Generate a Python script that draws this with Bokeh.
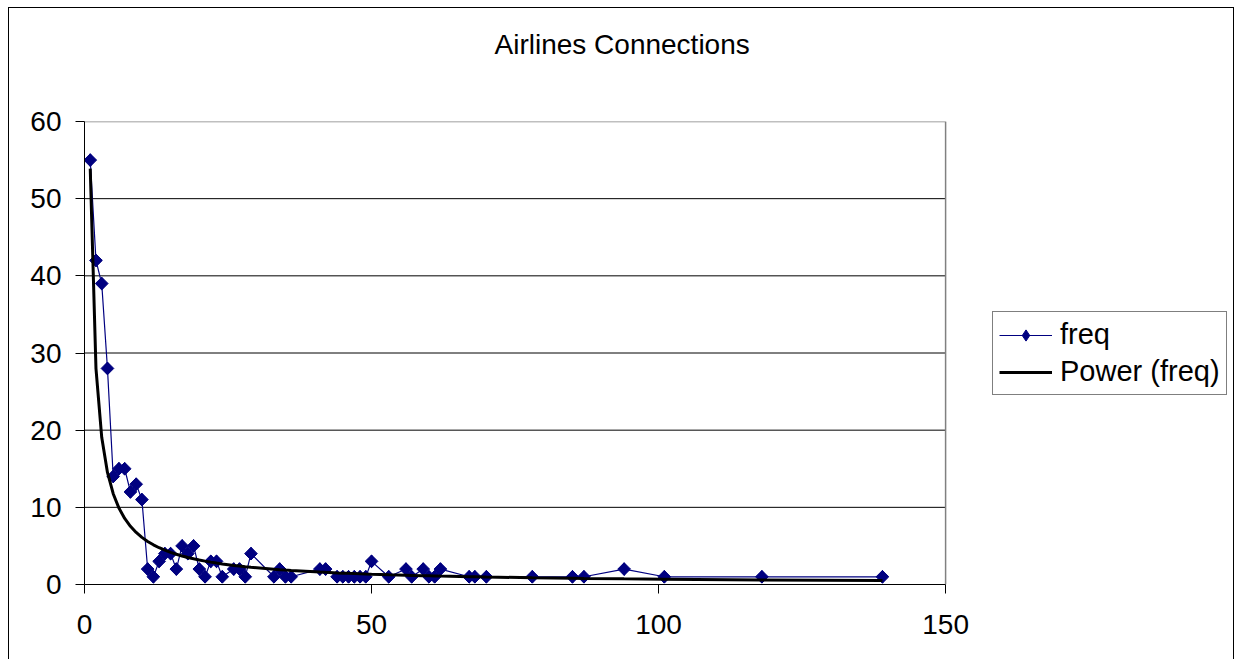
import numpy as np
from bokeh.plotting import figure
from bokeh.models import Range1d, FixedTicker, Legend, LegendItem, Title
from bokeh.embed import file_html
from bokeh.resources import INLINE

# Number of connections per airport (degree) and how many airports have it
degree = [1, 2, 3, 4, 5, 6, 7, 8, 9, 10, 11, 12, 13, 14, 15, 16, 17, 18, 19, 20,
          21, 22, 23, 24, 26, 27, 28, 29, 33, 34, 35, 36, 41, 42, 44, 45, 46, 47,
          48, 49, 50, 53, 56, 57, 59, 60, 61, 62, 67, 68, 70, 78, 85, 87, 94, 101,
          118, 139]
freq = [55, 42, 39, 28, 14, 15, 15, 12, 13, 11, 2, 1, 3, 4, 4, 2, 5, 4, 5, 2,
        1, 3, 3, 1, 2, 2, 1, 4, 1, 2, 1, 1, 2, 2, 1, 1, 1, 1,
        1, 1, 3, 1, 2, 1, 2, 1, 1, 2, 1, 1, 1, 1, 1, 1, 2, 1,
        1, 1]

y_ticks = [0, 10, 20, 30, 40, 50, 60]
x_ticks = [0, 50, 100, 150]

# Power trendline y = a * x^b fitted by least squares in log-log space
slope, intercept = np.polyfit(np.log(degree), np.log(freq), 1)
trend = np.exp(intercept) * np.power(np.array(degree, dtype=float), slope)

FONT = "Liberation Sans"
x_lo, x_hi = x_ticks[0], x_ticks[-1]
y_lo, y_hi = y_ticks[0], y_ticks[-1]

# The frame runs to the right edge so the legend can sit beside the plot area;
# the plot area itself (0..150 x 0..60) is outlined explicitly below.
p = figure(width=1226, height=652, output_backend="svg", toolbar_location=None,
           x_range=Range1d(x_lo, 200.5), y_range=Range1d(y_lo, y_hi),
           min_border_left=75, min_border_right=0,
           min_border_top=113, min_border_bottom=76,
           background_fill_color="white", border_fill_color="white")
# chart-area frame around the whole figure
p.styles = {"border-left": "1px solid black", "border-top": "1px solid black",
            "border-right": "1px solid black", "margin-left": "8px",
            "margin-top": "7px"}
p.outline_line_color = None

# empty spacer keeps the title well above the plot frame
p.add_layout(Title(text=" ", text_font_size="1px", standoff=59), "above")
p.add_layout(Title(text="Airlines Connections", align="left", offset=410,
                   standoff=0, text_font=FONT, text_font_size="28px",
                   text_font_style="normal", text_color="black"), "above")

p.xgrid.visible = False
p.ygrid.visible = False

p.yaxis.ticker = FixedTicker(ticks=y_ticks)
p.xaxis.ticker = FixedTicker(ticks=x_ticks)
p.xaxis.bounds = (x_lo, x_hi)
for ax in (p.xaxis[0], p.yaxis[0]):
    ax.axis_line_color = "black"
    ax.major_tick_line_color = "black"
    ax.major_tick_in = 0
    ax.major_tick_out = 9
    ax.minor_tick_line_color = None
    ax.major_label_text_font = FONT
    ax.major_label_text_font_size = "28px"
    ax.major_label_text_color = "black"
p.yaxis.major_label_standoff = 14
p.xaxis.major_label_standoff = 21

# horizontal gridlines across the plot area only
inner = y_ticks[1:-1]
p.segment(x0=[x_lo] * len(inner), x1=[x_hi] * len(inner), y0=inner, y1=inner,
          line_color="black", line_width=1)
# grey plot-area border (top and right edges)
p.line([x_lo, x_hi, x_hi], [y_hi, y_hi, y_lo], line_color="#808080", line_width=1.5)

navy = "#000080"
freq_line = p.line(degree, freq, line_color=navy, line_width=1.2)
# narrow diamonds sit fully under the square markers; they supply the legend key
freq_key = p.scatter(degree, freq, marker="diamond", size=12.5,
                     fill_color=navy, line_color=navy)
freq_pts = p.scatter(degree, freq, marker="square", angle=np.pi / 4, size=9,
                     fill_color=navy, line_color=navy)
trend_line = p.line(degree, trend, line_color="black", line_width=3)

legend = Legend(items=[LegendItem(label="freq", renderers=[freq_line, freq_key]),
                       LegendItem(label="Power (freq)", renderers=[trend_line])],
                location=(908, 189), orientation="vertical",
                label_text_font=FONT, label_text_font_size="29px",
                label_text_color="black", label_standoff=8,
                glyph_width=53, glyph_height=28, label_height=28,
                spacing=4, padding=6, margin=0,
                border_line_color="black", border_line_width=1,
                background_fill_color="white", background_fill_alpha=1)
p.add_layout(legend)

open("out.html", "w").write(file_html(p, INLINE))
